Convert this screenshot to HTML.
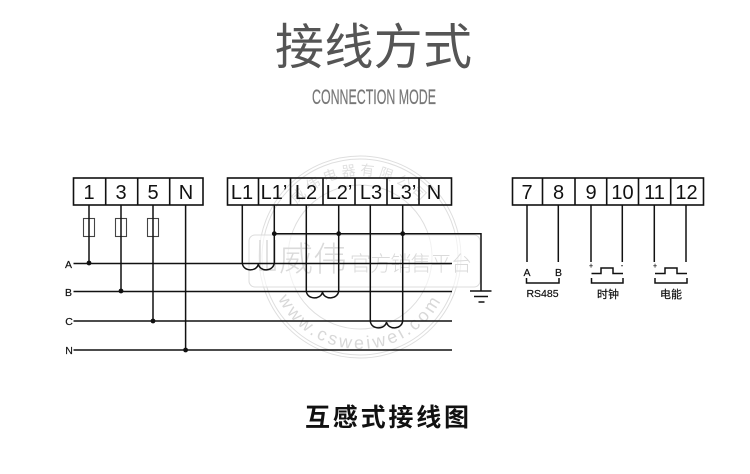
<!DOCTYPE html>
<html><head><meta charset="utf-8">
<style>html,body{margin:0;padding:0;background:#fff;width:750px;height:474px;overflow:hidden}svg{display:block}
text{font-family:"Liberation Sans","Noto Sans CJK SC",sans-serif}
.t{font-size:20px;fill:#111;text-anchor:middle}
.s{font-size:10.5px;fill:#111;text-anchor:middle;stroke:#111;stroke-width:.2}
</style></head><body>
<svg width="750" height="474" viewBox="0 0 750 474" xmlns="http://www.w3.org/2000/svg">
<rect width="750" height="474" fill="#fff"/>
<text x="275" y="64" font-size="49" fill="#555" font-weight="400" textLength="197" lengthAdjust="spacing">接线方式</text>
<text x="312" y="104" font-size="21" fill="#777" stroke="#777" stroke-width=".2" textLength="124" lengthAdjust="spacingAndGlyphs">CONNECTION MODE</text>
<text x="305" y="426" font-size="25" fill="#111" font-weight="700" textLength="164" lengthAdjust="spacing">互感式接线图</text>

<!-- watermark -->
<g fill="none" stroke="#dedede" stroke-width="1">
<circle cx="360" cy="257" r="101"/><circle cx="360" cy="257" r="98"/><circle cx="360" cy="257" r="72"/>
<rect x="249" y="235" width="231" height="52" rx="6" fill="#fff" fill-opacity=".6" stroke="#dcdcdc"/>
</g>
<defs>
<path id="b" d="M268 257 A92 92 0 0 0 452 257"/>
<path id="u" d="M278 257 A82 82 0 0 1 442 257"/>
</defs>
<text font-size="18" fill="#d8d8d8" letter-spacing="3"><textPath href="#b" startOffset="50%" text-anchor="middle">www.csweiwei.com</textPath></text>
<text font-size="14" fill="#e0e0e0" letter-spacing="4"><textPath href="#u" startOffset="50%" text-anchor="middle">威伟电器有限公司</textPath></text>
<path d="M260 240V270H275V240M267 240V270" fill="none" stroke="#d8d8d8" stroke-width="1.5"/>
<text x="279" y="271" font-size="34" fill="#dadada" font-weight="300" textLength="68">威伟</text>
<text x="350" y="271" font-size="21" fill="#dadada" font-weight="300" textLength="122">官方销售平台</text>

<!-- boxes -->
<g fill="none" stroke="#111" stroke-width="1.6">
<rect x="73.5" y="178" width="129.5" height="27"/>
<path d="M105.7 178V205M137.7 178V205M169.7 178V205"/>
<rect x="227.5" y="178" width="224" height="27"/>
<path d="M258.5 178V205M290.5 178V205M323 178V205M355 178V205M387 178V205M419 178V205"/>
<rect x="512.5" y="178" width="191" height="27"/>
<path d="M542.5 178V205M575 178V205M606.7 178V205M638.5 178V205M670.7 178V205"/>
<!-- fuses -->
<g stroke="#444" stroke-width="1.1">
<rect x="83.5" y="218.5" width="11" height="18"/><rect x="115.5" y="218.5" width="11" height="18"/><rect x="147.5" y="218.5" width="11" height="18"/>
</g>
</g>
<g fill="none" stroke="#111" stroke-width="1.5">
<!-- phase drops -->
<path d="M89 205V263M121 205V291M153 205V321M185.6 205V350"/>
<!-- buses -->
<path d="M73.5 263.5H452M73.5 291.5H452M73.5 321H452M73.5 350H452"/>
<!-- CT wires -->
<path d="M242.3 205V263M274.3 205V263M306.3 205V291M338.7 205V291M370.3 205V321M402.7 205V321"/>
<path d="M274.3 233.7H481V291M470 291H491.5M474 296.5H488M478.5 302H484.5"/>
<!-- coils -->
<path d="M242.3 263C243 272 257 272 258.3 264C260 272 273 272 274.3 263"/>
<path d="M306.3 291C307 300 321 300 322.5 292C324 300 337.5 300 338.7 291"/>
<path d="M370.3 321C371 330 385 330 386.5 322C388 330 401.5 330 402.7 321"/>
<!-- right drops -->
<path d="M527 205V262M558.3 205V262M591 205V262M622.3 205V262M654.3 205V262M686 205V262"/>
<!-- RS485 bracket -->
<path d="M526.5 278V283H559V278"/>
<!-- pulses -->
<path d="M591.5 273.5H601V268H613V273.5H623"/>
<path d="M591.5 278V283H623V278"/>
<path d="M655 273.5H665V268H677V273.5H687"/>
<path d="M655 278V283H687V278"/>
</g>
<g fill="#111">
<circle cx="89" cy="263" r="2.4"/><circle cx="121" cy="291" r="2.4"/><circle cx="153" cy="321" r="2.4"/><circle cx="185.6" cy="350" r="2.4"/>
<circle cx="274.3" cy="233.7" r="2.4"/><circle cx="338.7" cy="233.7" r="2.4"/><circle cx="402.7" cy="233.7" r="2.4"/>
</g>
<!-- terminal labels -->
<g>
<text class="t" x="89" y="199">1</text><text class="t" x="121" y="199">3</text><text class="t" x="153" y="199">5</text><text class="t" x="186" y="199">N</text>
<text class="t" x="242" y="199">L1</text><text class="t" x="274" y="199">L1’</text><text class="t" x="306" y="199">L2</text><text class="t" x="339" y="199">L2’</text><text class="t" x="371" y="199">L3</text><text class="t" x="403" y="199">L3’</text><text class="t" x="434" y="199">N</text>
<text class="t" x="527" y="199">7</text><text class="t" x="558.5" y="199">8</text><text class="t" x="591" y="199">9</text><text class="t" x="622.5" y="199">10</text><text class="t" x="654.5" y="199">11</text><text class="t" x="686.5" y="199">12</text>
</g>
<text class="s" x="68.5" y="268">A</text><text class="s" x="68.5" y="296">B</text><text class="s" x="69" y="325">C</text><text class="s" x="69" y="354">N</text>
<text class="s" x="527" y="276">A</text><text class="s" x="558.5" y="276">B</text>
<text class="s" x="542.5" y="297">RS485</text><text class="s" x="608" y="298" style="font-size:11px">时钟</text><text class="s" x="671" y="298" style="font-size:11px">电能</text>
<text class="s" x="591" y="268" style="font-size:7px">+</text><text class="s" x="622" y="268" style="font-size:7px">-</text><text class="s" x="655" y="268" style="font-size:7px">+</text>
</svg>
</body></html>
